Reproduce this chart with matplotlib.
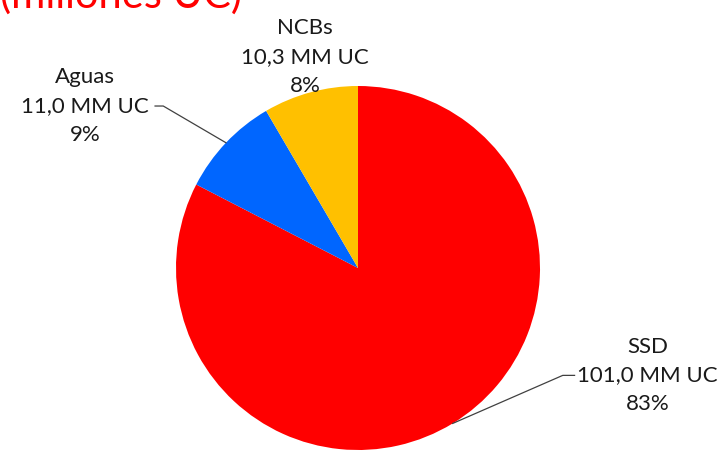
import numpy as np
import matplotlib.pyplot as plt

plt.rcParams['font.family'] = ['Lato', 'DejaVu Sans']

# datos
categorias = ['SSD', 'Aguas', 'NCBs']
montos = [101.0, 11.0, 10.3]
colores = ['#FF0000', '#0066FF', '#FFC000']
titulo = '(millones UC)'

total = sum(montos)
W, H = 720, 459
cx, cy, r = 358, 268, 182

fig = plt.figure(figsize=(W / 100, H / 100), dpi=100)
ax = fig.add_axes([(cx - r) / W, (H - cy - r) / H, 2 * r / W, 2 * r / H])

wedges, _ = ax.pie(montos, colors=colores, startangle=90, counterclock=False,
                   wedgeprops=dict(linewidth=0))
ax.set_xlim(-1, 1)
ax.set_ylim(-1, 1)
ax.set_aspect('equal')
ax.axis('off')

# posiciones de las etiquetas (coordenadas del eje) y tramo horizontal de la línea guía
pos_etiquetas = {'SSD': (1.59, -0.59), 'Aguas': (-1.50, 0.89), 'NCBs': (-0.29, 1.16)}
guia = {'SSD': (1.125, 1.19), 'Aguas': (-1.07, -1.115)}

for w, cat, val in zip(wedges, categorias, montos):
    pct = val / total * 100
    txt = f'{cat}\n{val:.1f} MM UC\n{pct:.0f}%'.replace('.', ',')
    x, y = pos_etiquetas[cat]
    ax.text(x, y, txt, ha='center', va='center', fontsize=16,
            linespacing=1.55, color='#1a1a1a', clip_on=False)
    if cat in guia:
        ang = np.deg2rad((w.theta1 + w.theta2) / 2)
        px, py = np.cos(ang), np.sin(ang)
        g0, g1 = guia[cat]
        ax.plot([px, g0, g1], [py, y, y], color='#404040', lw=0.9,
                clip_on=False)

fig.text(0.0, 1 - 8 / H, titulo, color='#FF0000', fontsize=30,
         ha='left', va='baseline')

fig.savefig('out.png', dpi=100)
